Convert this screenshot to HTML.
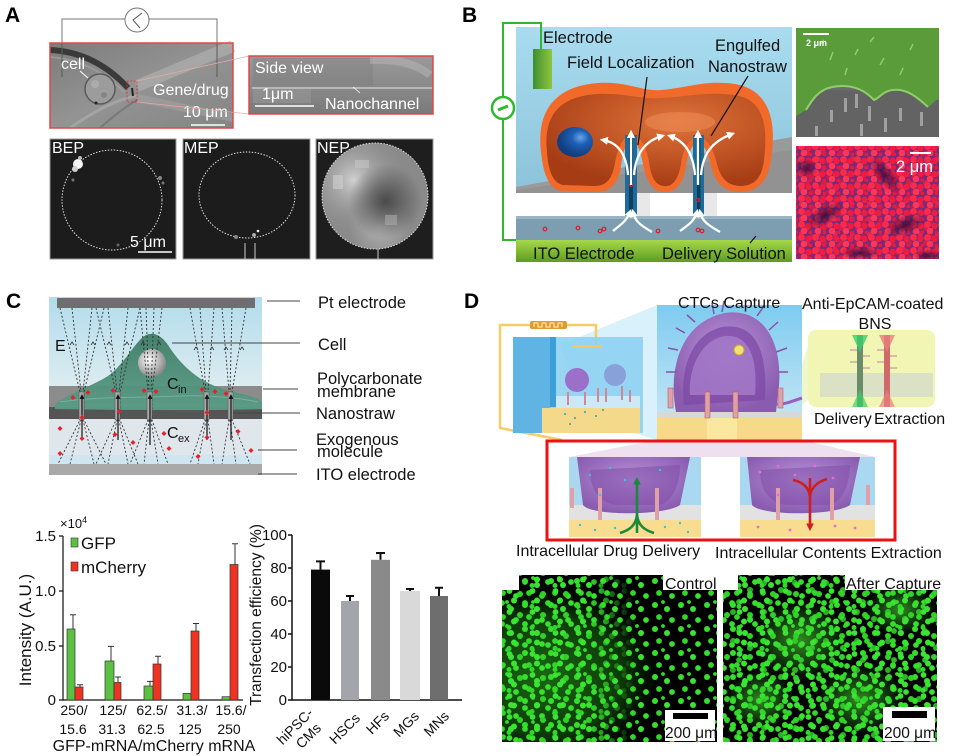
<!DOCTYPE html>
<html><head><meta charset="utf-8">
<style>
html,body{margin:0;padding:0;background:#fff;}
svg{display:block;}
text{font-family:"Liberation Sans",Arial,sans-serif;}
</style></head><body>
<svg width="955" height="756" viewBox="0 0 955 756" xmlns="http://www.w3.org/2000/svg">
<defs>
  <linearGradient id="dicbg" x1="0" y1="0" x2="1" y2="1">
    <stop offset="0" stop-color="#7c7c7c"/><stop offset="0.5" stop-color="#939393"/><stop offset="1" stop-color="#858585"/>
  </linearGradient>
  <linearGradient id="sidebg" x1="0" y1="0" x2="0" y2="1">
    <stop offset="0" stop-color="#9a9a9a"/><stop offset="0.5" stop-color="#8a8a8a"/><stop offset="1" stop-color="#7a7a7a"/>
  </linearGradient>
  <radialGradient id="nep1" cx="0.3" cy="0.35" r="0.5">
    <stop offset="0" stop-color="#d0d0d0"/><stop offset="1" stop-color="#909090" stop-opacity="0"/>
  </radialGradient>
  <radialGradient id="nep2" cx="0.6" cy="0.55" r="0.35">
    <stop offset="0" stop-color="#4a4a4a"/><stop offset="1" stop-color="#4a4a4a" stop-opacity="0"/>
  </radialGradient>
  <radialGradient id="nep3" cx="0.55" cy="0.8" r="0.3">
    <stop offset="0" stop-color="#b0b0b0"/><stop offset="1" stop-color="#b0b0b0" stop-opacity="0"/>
  </radialGradient>
  <clipPath id="nepclip"><circle cx="375" cy="196" r="53"/></clipPath>
  <clipPath id="redclip"><rect x="796" y="146" width="143" height="113"/></clipPath>
  <linearGradient id="bbg" x1="0" y1="0" x2="0" y2="1">
    <stop offset="0" stop-color="#a9dcef"/><stop offset="1" stop-color="#8cc3da"/>
  </linearGradient>
  <linearGradient id="ito" x1="0" y1="0" x2="0" y2="1">
    <stop offset="0" stop-color="#a6d84a"/><stop offset="1" stop-color="#5e9c1e"/>
  </linearGradient>
  <linearGradient id="elec" x1="0" y1="0" x2="1" y2="0">
    <stop offset="0" stop-color="#3f8f2f"/><stop offset="1" stop-color="#8cc640"/>
  </linearGradient>
  <radialGradient id="nuc" cx="0.65" cy="0.35" r="0.6">
    <stop offset="0" stop-color="#6aa6e8"/><stop offset="0.4" stop-color="#1d5fb5"/><stop offset="1" stop-color="#123e80"/>
  </radialGradient>
  <radialGradient id="cellB" cx="0.6" cy="0.3" r="0.7">
    <stop offset="0" stop-color="#e0733a"/><stop offset="1" stop-color="#a63c14"/>
  </radialGradient>
  <marker id="wa" viewBox="0 0 10 10" refX="6" refY="5" markerWidth="3.5" markerHeight="3.5" orient="auto"><path d="M0,0 L10,5 L0,10 z" fill="#fff"/></marker>
  <marker id="ka" viewBox="0 0 10 10" refX="6" refY="5" markerWidth="4" markerHeight="4" orient="auto"><path d="M0,0 L10,5 L0,10 z" fill="#111"/></marker>
  <marker id="ga" viewBox="0 0 10 10" refX="6" refY="5" markerWidth="3" markerHeight="3" orient="auto"><path d="M0,0 L10,5 L0,10 z" fill="#1a8a3a"/></marker>
  <marker id="ra" viewBox="0 0 10 10" refX="6" refY="5" markerWidth="3" markerHeight="3" orient="auto"><path d="M0,0 L10,5 L0,10 z" fill="#cc2020"/></marker>
  <linearGradient id="cbg" x1="0" y1="0" x2="0" y2="1">
    <stop offset="0" stop-color="#b2dcec"/><stop offset="1" stop-color="#dcecf0"/>
  </linearGradient>
  <linearGradient id="ccell" x1="0" y1="0" x2="0" y2="1">
    <stop offset="0" stop-color="#3e7d66"/><stop offset="1" stop-color="#5a9c86"/>
  </linearGradient>
  <radialGradient id="sph" cx="0.4" cy="0.4" r="0.6">
    <stop offset="0" stop-color="#ffffff"/><stop offset="1" stop-color="#8a8a8a"/>
  </radialGradient>
  <linearGradient id="dblue" x1="0" y1="0" x2="0" y2="1">
    <stop offset="0" stop-color="#7ecbf0"/><stop offset="0.8" stop-color="#bfe4f4"/><stop offset="1" stop-color="#e6f2f6"/>
  </linearGradient>
  <radialGradient id="purp" cx="0.5" cy="0.4" r="0.6">
    <stop offset="0" stop-color="#b894d8"/><stop offset="1" stop-color="#8a5cb0"/>
  </radialGradient>
  <pattern id="ps" width="26" height="24" patternUnits="userSpaceOnUse">
    <circle cx="5" cy="5" r="3" fill="#35e02c"/><circle cx="17" cy="9" r="3" fill="#3ae532"/>
    <circle cx="9" cy="17" r="2.9" fill="#30d828"/><circle cx="22" cy="20" r="2.9" fill="#38e030"/>
    <circle cx="13" cy="2" r="1.9" fill="#33dc2a"/>
  </pattern>
  <pattern id="pm" width="23" height="21" patternUnits="userSpaceOnUse">
    <circle cx="3.5" cy="3" r="2.9" fill="#3be434"/><circle cx="14" cy="6" r="3" fill="#30d228"/>
    <circle cx="8" cy="12.5" r="3" fill="#3ae532"/><circle cx="19" cy="15" r="2.9" fill="#36de2e"/>
    <circle cx="3" cy="18.5" r="2.5" fill="#30d828"/>
  </pattern>
  <pattern id="pc" width="31" height="29" patternUnits="userSpaceOnUse">
    <circle cx="6" cy="10" r="3" fill="#36e02e"/><circle cx="20" cy="3" r="3" fill="#33dc2a"/>
    <circle cx="26" cy="22" r="2.9" fill="#3ae532"/>
  </pattern>
  <linearGradient id="leftfade" x1="0" y1="0" x2="1" y2="0">
    <stop offset="0" stop-color="#fff"/><stop offset="0.4" stop-color="#fff"/><stop offset="0.62" stop-color="#000"/><stop offset="1" stop-color="#000"/>
  </linearGradient>
  <mask id="ctrlmask"><rect x="502" y="575" width="215" height="167" fill="url(#leftfade)"/></mask>
  <radialGradient id="haze" cx="0.2" cy="0.6" r="0.6">
    <stop offset="0" stop-color="#1b6612"/><stop offset="0.6" stop-color="#0d3a08"/><stop offset="1" stop-color="#000" stop-opacity="0"/>
  </radialGradient>
  <radialGradient id="haze2" cx="0.5" cy="0.5" r="0.5">
    <stop offset="0" stop-color="#2f8a22"/><stop offset="1" stop-color="#2f8a22" stop-opacity="0"/>
  </radialGradient>
  <pattern id="pr1" width="14" height="13" patternUnits="userSpaceOnUse">
    <circle cx="3.5" cy="3.5" r="3.4" fill="#ff2a4a"/><circle cx="10.5" cy="5" r="3.2" fill="#f01c40"/>
    <circle cx="6" cy="10" r="3.3" fill="#ff3656"/><circle cx="12.5" cy="11.5" r="2" fill="#e81a40"/>
  </pattern>
  <pattern id="pr2" width="17" height="15" patternUnits="userSpaceOnUse">
    <circle cx="8" cy="3" r="2.8" fill="#d02050"/><circle cx="2" cy="9" r="2.6" fill="#e02454"/>
    <circle cx="13" cy="12" r="2.8" fill="#c81c4c"/>
  </pattern>
  <radialGradient id="dk" cx="0.5" cy="0.5" r="0.5">
    <stop offset="0" stop-color="#2a0c40" stop-opacity="0.85"/><stop offset="1" stop-color="#2a0c40" stop-opacity="0"/>
  </radialGradient>
</defs>

<rect width="955" height="756" fill="#fff"/>

<!-- ================= PANEL A ================= -->
<text x="5" y="22" font-size="21" font-weight="bold">A</text>
<path d="M62,77 V19 H125 M149,19 H217 V77" fill="none" stroke="#777" stroke-width="1"/>
<circle cx="137" cy="20" r="12" fill="#fff" stroke="#777" stroke-width="1"/>
<path d="M142,13 L133,20 L140,28" fill="none" stroke="#555" stroke-width="1"/>
<rect x="50" y="43" width="183" height="85" fill="url(#dicbg)"/>
<path d="M137,86 L233,46" stroke="#b8b8b8" stroke-width="12" opacity="0.55"/>
<path d="M137,98 L233,118" stroke="#a6a6a6" stroke-width="8" opacity="0.5"/>
<path d="M50,50 Q95,52 128,88" fill="none" stroke="#3a3a3a" stroke-width="6"/>
<path d="M50,57 Q92,60 124,92" fill="none" stroke="#a0a0a0" stroke-width="2" opacity="0.7"/>
<path d="M70,128 Q110,100 137,96" fill="none" stroke="#b0b0b0" stroke-width="3" opacity="0.6"/>
<path d="M100,128 Q120,110 137,100" fill="none" stroke="#6a6a6a" stroke-width="2" opacity="0.6"/>
<path d="M62,43 V77 M217,43 V77" stroke="#5a5a5a" stroke-width="1"/>
<circle cx="100" cy="89" r="15" fill="#9c9c9c" stroke="#5a5a5a" stroke-width="1.5"/>
<circle cx="95" cy="84" r="4" fill="#b4b4b4" opacity="0.7"/>
<circle cx="104" cy="95" r="3" fill="#7a7a7a" opacity="0.7"/>
<circle cx="96" cy="103" r="1.5" fill="#222"/>
<rect x="127" y="81" width="10" height="21" fill="none" stroke="#d03030" stroke-width="0.8" stroke-dasharray="2,1.5"/>
<path d="M132,88 L133,96" stroke="#222" stroke-width="2"/>
<rect x="50" y="43" width="183" height="85" fill="none" stroke="#e04848" stroke-width="1.5"/>
<text x="61" y="69" font-size="16" fill="#fff">cell</text>
<path d="M80,71 L88,78" stroke="#fff" stroke-width="1"/>
<text x="153" y="95" font-size="16" fill="#fff">Gene/drug</text>
<text x="183" y="117" font-size="16" fill="#fff">10 μm</text>
<path d="M191,125 H225" stroke="#fff" stroke-width="1.5"/>
<path d="M137,81 L249,56 M137,102 L249,114" stroke="#e8a8a8" stroke-width="0.8"/>
<rect x="249" y="56" width="184" height="58" fill="url(#sidebg)"/>
<rect x="253" y="58" width="120" height="28" fill="#777" opacity="0.3"/>
<path d="M370,60 Q410,58 430,75" stroke="#c0c0c0" stroke-width="8" fill="none" opacity="0.4"/>
<path d="M252,88 H432" stroke="#b8b8b8" stroke-width="2"/>
<rect x="253" y="89" width="58" height="14" fill="#999" opacity="0.5"/>
<text x="255" y="73" font-size="16" fill="#fff">Side view</text>
<text x="262" y="99" font-size="16" fill="#fff">1μm</text>
<path d="M255,106 H314" stroke="#fff" stroke-width="1.5"/>
<text x="325" y="109" font-size="16" fill="#fff">Nanochannel</text>
<path d="M360,93 L353,87" stroke="#fff" stroke-width="0.8"/>
<rect x="249" y="56" width="184" height="58" fill="none" stroke="#e04848" stroke-width="1.5"/>
<rect x="50" y="139" width="126" height="120" fill="#1c1c1c" stroke="#9a9a9a" stroke-width="1"/>
<circle cx="112" cy="200" r="50" fill="none" stroke="#ddd" stroke-width="1" stroke-dasharray="1.5,1.5"/>
<circle cx="78" cy="164" r="5" fill="#f4f4f4"/>
<circle cx="75" cy="169" r="3" fill="#cfcfcf"/>
<circle cx="80" cy="158" r="2" fill="#bbb"/>
<circle cx="73" cy="180" r="1.5" fill="#777"/>
<circle cx="160" cy="178" r="2" fill="#888"/>
<circle cx="163" cy="183" r="1.5" fill="#777"/>
<circle cx="118" cy="245" r="1.5" fill="#666"/>
<text x="52" y="153" font-size="16" fill="#fff">BEP</text>
<text x="130" y="247" font-size="16" fill="#fff">5 μm</text>
<path d="M138,252 H172" stroke="#fff" stroke-width="1.5"/>
<rect x="183" y="139" width="127" height="120" fill="#1c1c1c" stroke="#9a9a9a" stroke-width="1"/>
<ellipse cx="247" cy="195" rx="48" ry="43" fill="none" stroke="#ddd" stroke-width="1" stroke-dasharray="1.5,1.5"/>
<circle cx="236" cy="237" r="2" fill="#888"/><circle cx="254" cy="235" r="2" fill="#aaa"/><circle cx="258" cy="231" r="1.3" fill="#eee"/>
<path d="M245,243 V259 M255,243 V259" stroke="#ccc" stroke-width="1"/>
<text x="184" y="153" font-size="16" fill="#fff">MEP</text>
<rect x="316" y="139" width="117" height="120" fill="#1e1e1e" stroke="#9a9a9a" stroke-width="1"/>
<g clip-path="url(#nepclip)">
  <rect x="322" y="143" width="106" height="106" fill="#8a8a8a"/>
  <rect x="322" y="143" width="106" height="106" fill="url(#nep1)"/>
  <rect x="322" y="143" width="106" height="106" fill="url(#nep3)"/>
  <rect x="322" y="143" width="106" height="106" fill="url(#nep2)"/>
  <rect x="333" y="175" width="10" height="14" fill="#cfcfcf" opacity="0.6"/>
  <rect x="355" y="160" width="14" height="8" fill="#c4c4c4" opacity="0.6"/>
  <rect x="385" y="215" width="12" height="10" fill="#a8a8a8" opacity="0.6"/>
</g>
<circle cx="375" cy="196" r="53" fill="none" stroke="#ddd" stroke-width="1" stroke-dasharray="1.5,1.5"/>
<path d="M378,249 V259" stroke="#ccc" stroke-width="1"/>
<text x="317" y="153" font-size="16" fill="#fff">NEP</text>

<!-- ================= PANEL B ================= -->
<text x="462" y="22" font-size="21" font-weight="bold">B</text>
<rect x="516" y="27" width="276" height="166" fill="url(#bbg)"/>
<polygon points="516,193 516,187 792,137 792,193" fill="#9a9a9a"/>
<polygon points="516,193 516,190 792,150 792,193" fill="#8a8a8a" opacity="0.5"/>
<path d="M541,49 V23 H503 V240 H516" fill="none" stroke="#2db82d" stroke-width="2"/>
<circle cx="503" cy="108" r="11" fill="#fff" stroke="#2db82d" stroke-width="2.5"/>
<path d="M498,110 L508,106" stroke="#2db82d" stroke-width="3"/>
<rect x="533" y="49" width="19" height="40" fill="url(#elec)"/>
<rect x="516" y="193" width="276" height="23" fill="#fff"/>
<path d="M541,152 C536,110 556,86 598,83 C628,81 642,92 662,90 C692,87 705,80 735,84 C770,90 777,122 771,160 C768,182 757,192 740,192 C722,192 714,180 711,166 C708,150 702,143 698,143 C693,143 688,152 686,166 C683,186 674,193 664,192 C650,191 646,178 643,164 C640,148 636,141 632,141 C627,141 623,150 621,166 C618,186 608,193 594,192 L562,191 C548,189 543,172 541,152 Z" fill="#f26a2a"/>
<path d="M547,152 C543,115 560,96 598,94 C628,93 642,100 662,98 C692,96 705,92 735,95 C764,100 768,125 764,160 C762,178 754,186 741,186 C726,186 720,176 717,164 C713,146 705,137 698,137 C690,137 683,148 681,164 C678,181 672,187 664,186 C654,185 651,175 649,162 C646,144 639,135 632,135 C624,135 618,146 615,163 C612,180 606,186 594,186 L563,185 C552,183 548,168 547,152 Z" fill="url(#cellB)"/>
<ellipse cx="680" cy="122" rx="35" ry="10" fill="#f0905a" opacity="0.5"/>
<ellipse cx="575" cy="142" rx="18" ry="15" fill="url(#nuc)"/>
<rect x="636" y="193" width="14" height="23" fill="#e8e8e8"/>
<rect x="703" y="193" width="14" height="23" fill="#e8e8e8"/>
<rect x="625" y="135" width="12" height="82" fill="#1d6b99"/>
<rect x="629" y="135" width="4" height="82" fill="#0e3f60"/>
<rect x="693" y="135" width="11" height="82" fill="#1d6b99"/>
<rect x="697" y="135" width="3.5" height="82" fill="#0e3f60"/>
<rect x="516" y="216" width="276" height="24" fill="#7d9db0"/>
<rect x="516" y="216" width="276" height="3" fill="#9ab4c4"/>
<rect x="516" y="240" width="276" height="22" fill="url(#ito)"/>
<g fill="none" stroke="#d81e30" stroke-width="1.2">
<circle cx="545" cy="229" r="1.8"/><circle cx="578" cy="228" r="1.8"/><circle cx="600" cy="231" r="1.8"/><circle cx="604" cy="229" r="1.8"/><circle cx="658" cy="231" r="1.8"/><circle cx="698" cy="230" r="1.8"/><circle cx="702" cy="231" r="1.8"/><circle cx="631" cy="185" r="1.5"/><circle cx="698" cy="200" r="1.5"/>
</g>
<g fill="none" stroke="#fff" stroke-width="2.3" marker-end="url(#wa)">
<path d="M631,185 V133"/>
<path d="M628,175 C626,150 615,142 603,140"/>
<path d="M634,175 C636,150 648,140 662,136"/>
<path d="M698,185 V133"/>
<path d="M695,175 C693,150 682,140 670,136"/>
<path d="M701,175 C703,150 716,140 732,134"/>
<path d="M613,231 C620,225 626,222 630,212"/>
<path d="M652,232 C642,226 635,222 633,212"/>
<path d="M680,231 C688,225 694,222 697,212"/>
<path d="M720,232 C710,226 702,222 700,212"/>
</g>
<path d="M647,77 L638,145" stroke="#111" stroke-width="1.2"/>
<path d="M748,76 L711,136" stroke="#111" stroke-width="1.2"/>
<path d="M750,243 L756,236" stroke="#111" stroke-width="1.2"/>
<text x="543" y="43" font-size="16.5" fill="#111">Electrode</text>
<text x="567" y="68" font-size="16.5" fill="#111">Field Localization</text>
<text x="715" y="51" font-size="16.5" fill="#111">Engulfed</text>
<text x="708" y="72" font-size="16.5" fill="#111">Nanostraw</text>
<text x="533" y="259" font-size="16.5" fill="#111">ITO Electrode</text>
<text x="662" y="259" font-size="16.5" fill="#111">Delivery Solution</text>
<rect x="796" y="28" width="143" height="109" fill="#6c6c6c"/>
<rect x="796" y="90" width="143" height="47" fill="#5e5e5e" opacity="0.6"/>
<g fill="#a0a0a0">
<rect x="844" y="98" width="3" height="14"/><rect x="855" y="94" width="3" height="14"/><rect x="868" y="106" width="3" height="15"/>
<rect x="899" y="108" width="3" height="13"/><rect x="920" y="112" width="3" height="14"/><rect x="815" y="126" width="3" height="10"/>
<rect x="860" y="124" width="3" height="12"/><rect x="884" y="118" width="3" height="14"/><rect x="830" y="110" width="3" height="12"/>
</g>
<path d="M796,28 H939 V100 C935,98 932,106 928,107 C920,100 908,88 893,90 C882,91 880,98 874,100 C862,87 848,84 832,87 C818,90 812,100 806,110 L796,116 Z" fill="#5a9c3a"/>
<path d="M806,110 C812,100 818,90 832,87 C848,84 862,87 874,100 C880,98 882,91 893,90 C908,88 920,100 928,107" fill="none" stroke="#8fcf68" stroke-width="2"/>
<g stroke="#8fcf68" stroke-width="1.5">
<path d="M830,60 L833,52"/><path d="M855,55 L858,49"/><path d="M880,65 L884,58"/><path d="M910,50 L913,44"/><path d="M845,75 L847,68"/><path d="M900,75 L903,68"/><path d="M820,45 L824,40"/><path d="M870,42 L874,37"/>
</g>
<path d="M803,34 H829" stroke="#fff" stroke-width="2"/>
<text x="806" y="46" font-size="9" font-weight="bold" fill="#fff">2 μm</text>
<!-- Red fluorescence -->
<g clip-path="url(#redclip)">
<rect x="796" y="146" width="143" height="113" fill="#7a2a78"/>
<rect x="796" y="146" width="143" height="113" fill="url(#pr2)"/>
<rect x="796" y="146" width="143" height="113" fill="url(#pr1)"/>
<ellipse cx="825" cy="215" rx="22" ry="10" fill="url(#dk)" transform="rotate(-30 825 215)"/>
<ellipse cx="885" cy="175" rx="24" ry="9" fill="url(#dk)" transform="rotate(50 885 175)"/>
<ellipse cx="905" cy="225" rx="22" ry="10" fill="url(#dk)" transform="rotate(-20 905 225)"/>
<ellipse cx="860" cy="253" rx="20" ry="7" fill="url(#dk)"/>
<ellipse cx="806" cy="168" rx="12" ry="10" fill="url(#dk)"/>
<ellipse cx="928" cy="256" rx="14" ry="7" fill="url(#dk)"/>
</g>
<path d="M910,153 H931" stroke="#fff" stroke-width="2"/>
<text x="896" y="172" font-size="16.5" fill="#fff">2 μm</text>

<!-- ================= PANEL C ================= -->
<text x="6" y="308" font-size="21" font-weight="bold">C</text>
<rect x="49" y="297" width="213" height="89" fill="url(#cbg)"/>
<rect x="57" y="298" width="198" height="10" fill="#6e6e6e"/>
<rect x="49" y="386" width="213" height="21" fill="#8c8c8c"/>
<rect x="49" y="407" width="213" height="12" fill="#555"/>
<rect x="49" y="419" width="213" height="45" fill="#dfe6ec"/>
<rect x="49" y="455" width="213" height="9" fill="#cfe6f0"/>
<rect x="49" y="464" width="213" height="11" fill="#a9a9a9"/>
<path d="M55,404 C70,393 92,386 108,376 C122,366 132,347 143,337 C150,331 160,333 168,345 C180,364 198,382 226,390 C246,395 258,397 262,402 L262,409 C200,411 120,410 55,409 Z" fill="url(#ccell)" opacity="0.95"/>
<path d="M60,402 C100,396 140,398 180,396 C210,395 240,398 258,402" fill="none" stroke="#7ab8a4" stroke-width="1" opacity="0.8"/>
<circle cx="152" cy="363" r="14" fill="url(#sph)"/>
<g fill="none" stroke="#333" stroke-width="0.9" stroke-dasharray="2,2">
<path d="M60,308 L80,392 L80,420 L58,464"/><path d="M72,308 L81,392 L81,420 L70,464"/><path d="M92,308 L83,392 L83,420 L94,464"/><path d="M104,308 L84,392 L84,420 L106,464"/>
<path d="M96,308 L116,392 L116,420 L96,464"/><path d="M108,308 L117,392 L117,420 L108,464"/><path d="M128,308 L119,392 L119,420 L128,464"/><path d="M140,308 L120,392 L120,420 L138,464"/>
<path d="M140,308 L148,392 L148,420 L130,464"/><path d="M146,308 L149,392 L149,420 L144,464"/><path d="M154,308 L151,392 L151,420 L158,464"/><path d="M162,308 L152,392 L152,420 L168,464"/>
<path d="M190,308 L205,392 L205,420 L190,464"/><path d="M200,308 L206,392 L206,420 L198,464"/><path d="M214,308 L208,392 L208,420 L214,464"/><path d="M222,308 L229,392 L229,420 L222,464"/>
<path d="M232,308 L230,392 L230,420 L236,464"/><path d="M246,308 L232,392 L232,420 L250,464"/>
</g>
<g fill="#a8a8a8" stroke="#555" stroke-width="0.5">
<rect x="79" y="392" width="5" height="28"/><rect x="115" y="392" width="5" height="28"/><rect x="147" y="392" width="5" height="28"/><rect x="204" y="392" width="5" height="28"/><rect x="228" y="392" width="5" height="28"/>
</g>
<g stroke="#111" stroke-width="1.2" marker-end="url(#ka)">
<path d="M82,440 V396"/><path d="M118,440 V396"/><path d="M150,445 V396"/><path d="M207,440 V396"/><path d="M231,440 V396"/>
</g>
<g fill="none" stroke="#333" stroke-width="0.8">
<path d="M70,345 L72,342 L74,345"/><path d="M91,345 L93,342 L95,345"/><path d="M107,345 L109,342 L111,345"/><path d="M125,345 L127,342 L129,345"/><path d="M141,345 L143,342 L145,345"/><path d="M157,345 L159,342 L161,345"/><path d="M194,350 L196,347 L198,350"/><path d="M210,350 L212,347 L214,350"/><path d="M224,350 L226,347 L228,350"/><path d="M240,350 L242,347 L244,350"/>
</g>
<g fill="#e8202a">
<path d="M73,395 l2.5,2.5 -2.5,2.5 -2.5,-2.5z"/><path d="M88,390 l2.5,2.5 -2.5,2.5 -2.5,-2.5z"/><path d="M113,388 l2.5,2.5 -2.5,2.5 -2.5,-2.5z"/><path d="M144,388 l2.5,2.5 -2.5,2.5 -2.5,-2.5z"/><path d="M156,389 l2.5,2.5 -2.5,2.5 -2.5,-2.5z"/><path d="M202,387 l2.5,2.5 -2.5,2.5 -2.5,-2.5z"/><path d="M215,389 l2.5,2.5 -2.5,2.5 -2.5,-2.5z"/><path d="M226,391 l2.5,2.5 -2.5,2.5 -2.5,-2.5z"/>
<path d="M82,415 l2.5,2.5 -2.5,2.5 -2.5,-2.5z"/><path d="M119,409 l2.5,2.5 -2.5,2.5 -2.5,-2.5z"/><path d="M207,410 l2.5,2.5 -2.5,2.5 -2.5,-2.5z"/><path d="M60,426 l2.5,2.5 -2.5,2.5 -2.5,-2.5z"/><path d="M82,436 l2.5,2.5 -2.5,2.5 -2.5,-2.5z"/><path d="M115,432 l2.5,2.5 -2.5,2.5 -2.5,-2.5z"/><path d="M133,440 l2.5,2.5 -2.5,2.5 -2.5,-2.5z"/><path d="M164,431 l2.5,2.5 -2.5,2.5 -2.5,-2.5z"/><path d="M169,446 l2.5,2.5 -2.5,2.5 -2.5,-2.5z"/><path d="M207,435 l2.5,2.5 -2.5,2.5 -2.5,-2.5z"/><path d="M238,429 l2.5,2.5 -2.5,2.5 -2.5,-2.5z"/><path d="M60,451 l2.5,2.5 -2.5,2.5 -2.5,-2.5z"/><path d="M198,454 l2.5,2.5 -2.5,2.5 -2.5,-2.5z"/><path d="M251,448 l2.5,2.5 -2.5,2.5 -2.5,-2.5z"/>
</g>
<text x="55" y="351" font-size="16" fill="#111">E</text>
<text x="167" y="389" font-size="16" fill="#111">C</text><text x="178" y="393" font-size="11" fill="#111">in</text>
<text x="167" y="438" font-size="16" fill="#111">C</text><text x="178" y="442" font-size="11" fill="#111">ex</text>
<g stroke="#444" stroke-width="1">
<path d="M267,301 H300"/><path d="M172,343 H300"/><path d="M263,389 H298"/><path d="M233,413 H300"/><path d="M258,450 H297"/><path d="M258,474 H297"/>
</g>
<g font-size="16.5" fill="#111">
<text x="318" y="308">Pt electrode</text>
<text x="318" y="350">Cell</text>
<text x="317" y="384">Polycarbonate</text>
<text x="317" y="397">membrane</text>
<text x="316" y="419">Nanostraw</text>
<text x="316" y="445">Exogenous</text>
<text x="317" y="457">molecule</text>
<text x="316" y="480">ITO electrode</text>
</g>

<!-- Left bar chart -->
<path d="M63,536 V700 H243" fill="none" stroke="#111" stroke-width="1.2"/>
<path d="M59,536 H63 M59,591 H63 M59,646 H63 M59,700 H63" stroke="#111" stroke-width="1.2"/>
<g font-size="15" fill="#111" text-anchor="end">
<text x="56" y="541">1.5</text><text x="56" y="596">1.0</text><text x="56" y="651">0.5</text><text x="56" y="705">0</text>
</g>
<text x="60" y="528" font-size="13" fill="#111">×10<tspan font-size="9" dy="-5">4</tspan></text>
<text transform="translate(31,630) rotate(-90)" font-size="17" fill="#111" text-anchor="middle">Intensity (A.U.)</text>
<rect x="71" y="538" width="7" height="9" fill="#5cc040" stroke="#333" stroke-width="0.6"/>
<text x="81" y="549" font-size="17" fill="#111">GFP</text>
<rect x="71" y="562" width="7" height="9" fill="#ee3322" stroke="#333" stroke-width="0.6"/>
<text x="81" y="573" font-size="17" fill="#111">mCherry</text>
<g stroke="#333" stroke-width="0.7">
<rect x="67" y="629" width="8" height="71" fill="#5cc040"/><rect x="75" y="687" width="8" height="13" fill="#ee3322"/>
<rect x="105" y="661" width="9" height="39" fill="#5cc040"/><rect x="114" y="682.5" width="7" height="17.5" fill="#ee3322"/>
<rect x="144" y="686" width="9" height="14" fill="#5cc040"/><rect x="153" y="664" width="8" height="36" fill="#ee3322"/>
<rect x="183" y="693.4" width="8" height="6.6" fill="#5cc040"/><rect x="191" y="631" width="8" height="69" fill="#ee3322"/>
<rect x="222" y="696.7" width="8" height="3.3" fill="#5cc040"/><rect x="230" y="564.5" width="8" height="135.5" fill="#ee3322"/>
</g>
<g stroke="#333" stroke-width="1" fill="none">
<path d="M73,629 V614.7 M70,614.7 H76"/><path d="M80,687 V684.7 M77,684.7 H83"/>
<path d="M111,661 V646.4 M108,646.4 H114"/><path d="M118,682.5 V677 M115,677 H121"/>
<path d="M150,686 V681.4 M147,681.4 H153"/><path d="M158,664 V656.3 M155,656.3 H161"/>
<path d="M196,631 V623.5 M193,623.5 H199"/>
<path d="M235,564.5 V543.7 M232,543.7 H238"/>
</g>
<g font-size="14" fill="#111" text-anchor="middle">
<text x="74" y="715">250/</text><text x="73" y="734">15.6</text>
<text x="113" y="715">125/</text><text x="112" y="734">31.3</text>
<text x="152" y="715">62.5/</text><text x="151" y="734">62.5</text>
<text x="192" y="715">31.3/</text><text x="190" y="734">125</text>
<text x="231" y="715">15.6/</text><text x="229" y="734">250</text>
</g>
<text x="154" y="751" font-size="16" fill="#111" text-anchor="middle">GFP-mRNA/mCherry mRNA</text>

<!-- Right bar chart -->
<path d="M292,535 V700 H462" fill="none" stroke="#111" stroke-width="1.5"/>
<path d="M288,535 H292 M288,568 H292 M288,601 H292 M288,634 H292 M288,667 H292 M288,700 H292" stroke="#111" stroke-width="1.5"/>
<g font-size="15" fill="#111" text-anchor="end">
<text x="287" y="540">100</text><text x="287" y="573">80</text><text x="287" y="606">60</text><text x="287" y="639">40</text><text x="287" y="672">20</text><text x="287" y="705">0</text>
</g>
<text transform="translate(261,615) rotate(-90)" font-size="15.5" fill="#111" text-anchor="middle">Transfection efficiency (%)</text>
<rect x="311" y="569.6" width="19" height="130.4" fill="#0a0a0a"/>
<rect x="341" y="601" width="18" height="99" fill="#a4a4ac"/>
<rect x="371" y="559.8" width="19" height="140.2" fill="#8a8a8a"/>
<rect x="400" y="591" width="20" height="109" fill="#d9d9d9"/>
<rect x="430" y="596" width="18" height="104" fill="#6e6e6e"/>
<g stroke="#111" stroke-width="2" fill="none">
<path d="M320.5,569.6 V561.4 M316,561.4 H325"/>
<path d="M350,601 V596 M346,596 H354"/>
<path d="M380.5,559.8 V553 M376,553 H385"/>
<path d="M410,591 V589 M406,589 H414"/>
<path d="M439,596 V587.8 M435,587.8 H443"/>
</g>
<g font-size="14" fill="#111" text-anchor="end">
<text transform="translate(314,714) rotate(-45)">hiPSC-</text>
<text transform="translate(322,729) rotate(-45)">CMs</text>
<text transform="translate(361,719) rotate(-45)">HSCs</text>
<text transform="translate(390,717) rotate(-45)">HFs</text>
<text transform="translate(420,717) rotate(-45)">MGs</text>
<text transform="translate(450,717) rotate(-45)">MNs</text>
</g>

<!-- ================= PANEL D ================= -->
<text x="464" y="308" font-size="21" font-weight="bold">D</text>
<polygon points="560,345 657,305 657,440 590,420" fill="#bfe8f6" opacity="0.6"/>
<polygon points="802,365 808,345 808,400 802,405" fill="#e9f3b8" opacity="0.7"/>
<polygon points="657,440 802,440 875,457 569,457" fill="#ead8ea" opacity="0.8"/>
<path d="M530,325 H500 V428 L562,440" fill="none" stroke="#f5cc66" stroke-width="2.5"/>
<path d="M567,325 H596 V345" fill="none" stroke="#f5cc66" stroke-width="2.5"/>
<rect x="530" y="321" width="37" height="8" rx="2" fill="#e09a30"/>
<path d="M534,327 V323 H538 V327 H542 V323 H546 V327 H550 V323 H554 V327 H558 V323 H562 V327" fill="none" stroke="#fff6c0" stroke-width="1"/>
<rect x="513" y="337" width="130" height="96" fill="#8dd2f2" opacity="0.9"/>
<rect x="513" y="337" width="37" height="96" fill="#5fb4e4"/>
<rect x="550" y="337" width="6" height="70" fill="#3e9fd8"/>
<rect x="542" y="408" width="98" height="25" fill="#f5d98a"/>
<rect x="556" y="396" width="84" height="12" fill="#d8eef6" opacity="0.8"/>
<rect x="572" y="345" width="30" height="3" fill="#f0c860"/>
<circle cx="577" cy="380" r="12" fill="#9a70c8"/>
<circle cx="615" cy="375" r="11" fill="#8aa0d8"/>
<g stroke="#d08898" stroke-width="2">
<path d="M568,392 V405"/><path d="M585,392 V405"/><path d="M598,388 V402"/><path d="M606,388 V402"/><path d="M622,386 V400"/><path d="M630,390 V402"/>
</g>
<g fill="#2aa0c0"><circle cx="565" cy="414" r="1"/><circle cx="575" cy="418" r="1"/><circle cx="585" cy="412" r="1"/><circle cx="596" cy="416" r="1"/><circle cx="603" cy="410" r="1"/><circle cx="570" cy="424" r="1"/></g>
<rect x="657" y="305" width="145" height="135" fill="url(#dblue)"/>
<rect x="657" y="412" width="145" height="6" fill="#d8d8d8"/>
<rect x="657" y="418" width="145" height="22" fill="#f7d98a"/>
<rect x="707" y="418" width="30" height="22" fill="#fbe8a0"/>
<path d="M676,412 C668,370 680,322 725,313 C765,307 785,345 778,395 L776,412 Z" fill="url(#purp)"/>
<path d="M684,405 C680,370 690,335 722,327 C755,322 768,350 765,400 Z" fill="#7d4aa6" opacity="0.75"/>
<path d="M690,395 C688,370 700,340 725,336 C750,334 758,360 755,395 Z" fill="#b38ad6" opacity="0.6"/>
<circle cx="739" cy="350" r="5" fill="#f4e070" stroke="#c8a830" stroke-width="1"/>
<g stroke="#8a50a8" stroke-width="1.5">
<path d="M714,314 L712,303"/><path d="M722,312 L724,301"/><path d="M695,322 L687,315"/><path d="M685,333 L676,328"/><path d="M678,350 L668,348"/><path d="M757,316 L764,306"/><path d="M769,330 L778,322"/><path d="M776,352 L787,348"/><path d="M677,372 L666,372"/><path d="M778,372 L788,372"/>
</g>
<path d="M776,404 C785,405 795,400 802,398" fill="none" stroke="#9a60c0" stroke-width="3"/>
<g fill="#e0a0a8" stroke="#b06070" stroke-width="0.6">
<rect x="705" y="392" width="5" height="26"/><rect x="733" y="392" width="5" height="26"/><rect x="668" y="388" width="5" height="20"/><rect x="778" y="388" width="5" height="20"/>
</g>
<rect x="808" y="330" width="127" height="77" rx="8" fill="#eef5a8" opacity="0.85"/>
<polygon points="820,373 933,373 933,397 820,397" fill="#d6dcc8" opacity="0.8"/>
<rect x="857" y="335" width="6" height="72" fill="#6a8c6a"/>
<rect x="884" y="335" width="6" height="72" fill="#d06a6a"/>
<path d="M852,335 L860,352 L868,335" fill="#3ad06a" opacity="0.8"/>
<path d="M879,335 L887,352 L895,335" fill="#e88080" opacity="0.8"/>
<path d="M852,407 L860,390 L868,407" fill="#3ad06a" opacity="0.7"/>
<path d="M879,407 L887,390 L895,407" fill="#e88080" opacity="0.7"/>
<g stroke="#c080a0" stroke-width="1"><path d="M850,350 H857 M863,356 H870 M850,362 H857 M863,368 H870 M877,350 H884 M890,356 H897 M877,362 H884 M890,368 H897"/></g>
<text x="678" y="308" font-size="16" fill="#111">CTCs Capture</text>
<text x="802" y="309" font-size="16" fill="#111">Anti-EpCAM-coated</text>
<text x="875" y="329" font-size="16" fill="#111" text-anchor="middle">BNS</text>
<text x="814" y="424" font-size="16" fill="#111">Delivery</text>
<text x="874" y="424" font-size="16" fill="#111">Extraction</text>
<rect x="569" y="457" width="132" height="80" fill="#a9d8f0"/>
<rect x="569" y="505" width="132" height="15" fill="#e2e2e2"/>
<rect x="569" y="520" width="132" height="17" fill="#f8dc90"/>
<path d="M577,457 L583,505 C590,516 665,516 680,505 L690,457 Z" fill="url(#purp)"/>
<path d="M590,470 C590,490 600,505 620,505 L660,505 C675,500 680,480 680,465 Z" fill="#7d4aa6" opacity="0.5"/>
<g fill="#e0a0a8"><rect x="598" y="488" width="4" height="32"/><rect x="655" y="488" width="4" height="32"/><rect x="570" y="488" width="4" height="20"/></g>
<g fill="#30c8d8"><circle cx="590" cy="475" r="1.2"/><circle cx="610" cy="468" r="1.2"/><circle cx="625" cy="480" r="1.2"/><circle cx="600" cy="495" r="1.2"/><circle cx="580" cy="525" r="1.2"/><circle cx="595" cy="530" r="1.2"/><circle cx="615" cy="528" r="1.2"/><circle cx="665" cy="527" r="1.2"/><circle cx="680" cy="523" r="1.2"/><circle cx="688" cy="532" r="1.2"/><circle cx="660" cy="470" r="1.2"/></g>
<g fill="none" stroke="#1a8a3a" stroke-width="2.6">
<path d="M637,533 V480" marker-end="url(#ga)"/>
<path d="M620,533 C630,530 636,525 637,515"/><path d="M654,533 C644,530 638,525 637,515"/>
</g>
<rect x="740" y="457" width="135" height="80" fill="#a9d8f0"/>
<rect x="740" y="505" width="135" height="15" fill="#e2e2e2"/>
<rect x="740" y="520" width="135" height="17" fill="#f8dc90"/>
<path d="M747,457 L752,505 C760,516 835,516 850,505 L860,457 Z" fill="url(#purp)"/>
<path d="M760,470 C760,490 770,505 790,505 L830,505 C845,500 850,480 850,465 Z" fill="#7d4aa6" opacity="0.5"/>
<g fill="#e0a0a8"><rect x="776" y="488" width="4" height="32"/><rect x="830" y="488" width="4" height="32"/><rect x="866" y="485" width="4" height="20"/></g>
<g fill="#e070d0"><circle cx="760" cy="472" r="1.4"/><circle cx="778" cy="466" r="1.4"/><circle cx="795" cy="475" r="1.4"/><circle cx="815" cy="466" r="1.4"/><circle cx="833" cy="478" r="1.4"/><circle cx="778" cy="495" r="1.4"/><circle cx="758" cy="527" r="1.4"/><circle cx="790" cy="530" r="1.4"/><circle cx="835" cy="526" r="1.4"/><circle cx="855" cy="528" r="1.4"/></g>
<g fill="none" stroke="#cc2020" stroke-width="2.6">
<path d="M810,478 V528" marker-end="url(#ra)"/>
<path d="M793,480 C803,482 809,488 810,496"/><path d="M827,479 C817,482 811,488 810,496"/>
</g>
<rect x="547" y="441" width="348" height="99" fill="none" stroke="#ee1111" stroke-width="3"/>
<text x="516" y="556" font-size="16" fill="#111">Intracellular Drug Delivery</text>
<text x="715" y="558" font-size="16" fill="#111">Intracellular Contents Extraction</text>

<!-- Control image -->
<rect x="519" y="575" width="144" height="15" fill="#000"/>
<rect x="502" y="590" width="215" height="152" fill="#000"/>
<rect x="502" y="575" width="215" height="167" fill="url(#haze)"/>
<path d="M519,575 H663 V590 H717 V742 H502 V590 H519 Z" fill="url(#ps)"/>
<path d="M519,575 H663 V590 H717 V742 H502 V590 H519 Z" fill="url(#pm)" mask="url(#ctrlmask)"/>
<rect x="663" y="575" width="56" height="15" fill="#fff"/>
<rect x="502" y="575" width="17" height="15" fill="#fff"/>
<text x="665" y="589" font-size="16" fill="#111">Control</text>
<rect x="665" y="710" width="50" height="31" fill="#fff"/>
<rect x="673" y="713" width="35" height="6" fill="#000"/>
<text x="665" y="738" font-size="15.5" fill="#111">200 μm</text>
<!-- After capture image -->
<rect x="738" y="575" width="107" height="15" fill="#000"/>
<rect x="723" y="590" width="214" height="152" fill="#000"/>
<ellipse cx="800" cy="640" rx="50" ry="40" fill="url(#haze2)"/>
<ellipse cx="860" cy="700" rx="45" ry="35" fill="url(#haze2)"/>
<ellipse cx="900" cy="610" rx="35" ry="25" fill="url(#haze2)"/>
<ellipse cx="760" cy="700" rx="35" ry="30" fill="url(#haze2)"/>
<path d="M738,575 H845 V590 H937 V742 H723 V590 H738 Z" fill="url(#ps)"/>
<path d="M738,575 H845 V590 H937 V742 H723 V590 H738 Z" fill="url(#pm)"/>
<path d="M738,575 H845 V590 H937 V742 H723 V590 H738 Z" fill="url(#pc)" opacity="0.8"/>
<rect x="845" y="575" width="95" height="15" fill="#fff"/>
<text x="846" y="589" font-size="16" fill="#111">After Capture</text>
<rect x="883" y="707" width="52" height="34" fill="#fff"/>
<rect x="892" y="711" width="35" height="7" fill="#000"/>
<text x="884" y="738" font-size="15.5" fill="#111">200 μm</text>
</svg>
</body></html>
